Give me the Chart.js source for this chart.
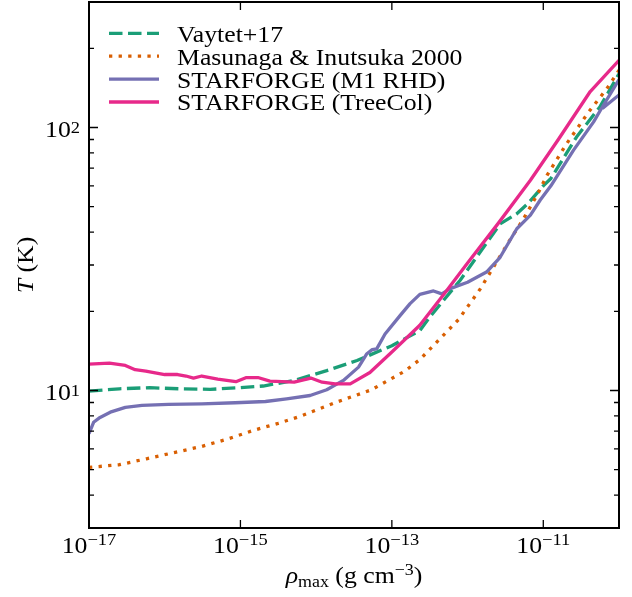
<!DOCTYPE html>
<html>
<head>
<meta charset="utf-8">
<title>Temperature vs. maximum density</title>
<script src="https://cdn.jsdelivr.net/npm/chart.js@4.4.1/dist/chart.umd.min.js"></script>
<style>
  html, body { margin: 0; padding: 0; background: #fff; }
</style>
</head>
<body>
<canvas id="tempChart" width="632" height="597"></canvas>
<script>
// density (g cm^-3) and temperature (K) for each curve
const vaytetRho = [1e-17, 2.51e-17, 6.31e-17, 1.58e-16, 3.98e-16, 1e-15, 2.0e-15, 5.01e-15, 1.38e-14, 3.47e-14,
  1e-13, 2.34e-13, 3.16e-13, 7.94e-13, 2.69e-12, 4.47e-12, 6.31e-12, 1e-11, 1.26e-11, 2.75e-11, 5.62e-11, 1e-10];
const vaytetT = [9.95, 10.15, 10.25, 10.15, 10.1, 10.25, 10.4, 10.9, 11.9, 13.0,
  14.8, 16.9, 19.0, 26.2, 43, 47, 51.5, 60, 64, 92, 120, 160];

const masunagaRho = [1e-17, 2.51e-17, 5.75e-17, 1.38e-16, 3.09e-16, 6.92e-16, 1.55e-15, 3.16e-15, 6.17e-15, 1.86e-14,
  5.37e-14, 1.48e-13, 2.34e-13, 7.59e-13, 1.48e-12, 3.55e-12, 5.5e-12, 8.71e-12, 1.12e-11, 2.04e-11, 3.98e-11, 6.92e-11, 1e-10];
const masunagaT = [5.1, 5.22, 5.5, 5.82, 6.13, 6.55, 7.08, 7.5, 7.98, 9.03,
  10.06, 11.84, 13.1, 18.6, 24.4, 37, 45, 56.9, 65.8, 86.9, 114.6, 140.6, 165];

// the M1 run leaves the plot on the right and comes back in
const m1Rho = [1e-17, 1.15e-17, 1.4e-17, 1.91e-17, 3.02e-17, 5.01e-17, 1.12e-16, 3.09e-16, 8.51e-16, 2.14e-15,
  4.07e-15, 8.32e-15, 1.38e-14, 2.29e-14, 3.63e-14, 4.68e-14, 5.5e-14, 6.31e-14, 8.13e-14, 1.29e-13,
  1.74e-13, 2.34e-13, 3.55e-13, 4.57e-13, 5.89e-13, 1e-12, 1.78e-12, 2.69e-12, 4.47e-12, 6.76e-12,
  9.12e-12, 1.26e-11, 2.51e-11, 4.62e-11, 5.66e-11, 1e-10, 1.26e-10, 1.26e-10, 1e-10, 6.03e-11];
const m1T = [6.85, 7.57, 7.9, 8.27, 8.63, 8.77, 8.85, 8.9, 8.98, 9.08,
  9.29, 9.57, 10.06, 10.92, 12.27, 13.8, 14.3, 14.4, 16.4, 19.3,
  21.4, 23.2, 23.9, 23.3, 24.4, 25.8, 28.2, 32.1, 41.2, 46.4,
  53, 60, 82, 105, 116, 152, 168, 140, 133, 118];

const treecolRho = [1e-17, 1.86e-17, 3.02e-17, 4.07e-17, 5.62e-17, 1e-16, 1.48e-16, 1.91e-16, 2.4e-16, 3.09e-16,
  5.01e-16, 8.71e-16, 1.2e-15, 1.7e-15, 2.45e-15, 5.13e-15, 8.51e-15, 1.2e-14, 1.78e-14, 2.82e-14,
  5.13e-14, 1e-13, 2.34e-13, 5.01e-13, 1e-12, 2.51e-12, 6.76e-12, 1.58e-11, 4.17e-11, 1e-10];
const treecolT = [12.6, 12.7, 12.45, 12.0, 11.85, 11.5, 11.5, 11.35, 11.15, 11.35,
  11.05, 10.8, 11.2, 11.2, 10.85, 10.75, 11.15, 10.75, 10.6, 10.6,
  11.7, 14.0, 17.7, 23.5, 30.5, 43, 63, 90, 137, 180];

const seriesLabels = ['Vaytet+17', 'Masunaga & Inutsuka 2000', 'STARFORGE (M1 RHD)', 'STARFORGE (TreeCol)'];

// axis ticks
const xTickValues = [1e-17, 1e-15, 1e-13, 1e-11];
const xTickExps = ['\u221217', '\u221215', '\u221213', '\u221211'];
const yTickValues = [3, 4, 5, 6, 7, 8, 9, 10, 20, 30, 40, 50, 60, 70, 80, 90, 100, 200, 300];
const yLabelValues = [10, 100];
const yLabelExps = ['1', '2'];

const SERIF = '"Liberation Serif", "DejaVu Serif", serif';
const STRETCH = 1.12;   // widen the serif a little
const MAJOR_LEN = 8;
const MINOR_LEN = 5;

function points(xs, ys) {
  return xs.map((x, i) => ({ x: x, y: ys[i] }));
}

function isDecade(v) {
  const l = Math.log10(v);
  return Math.abs(l - Math.round(l)) < 1e-9;
}

function textWidth(ctx, text, font) {
  ctx.font = font;
  return ctx.measureText(text).width * STRETCH;
}

function putText(ctx, text, font, x, y) {
  ctx.save();
  ctx.font = font;
  ctx.translate(x, y);
  ctx.scale(STRETCH, 1);
  ctx.fillText(text, 0, 0);
  ctx.restore();
}

// draw a run of pieces [{t, font, dy}] starting at x
function putRun(ctx, parts, x, baseline) {
  parts.forEach(p => {
    putText(ctx, p.t, p.font, x, baseline + (p.dy || 0));
    x += textWidth(ctx, p.t, p.font);
  });
}

function runWidth(ctx, parts) {
  return parts.reduce((s, p) => s + textWidth(ctx, p.t, p.font), 0);
}

const BIG = '23px ' + SERIF;
const SMALL = '16.5px ' + SERIF;

function powerParts(exp, rise) {
  return [{ t: '10', font: BIG }, { t: exp, font: SMALL, dy: -rise }];
}

const axesPlugin = {
  id: 'axesPlugin',
  afterDatasetsDraw(chart) {
    const { ctx, chartArea: a, scales: { x, y } } = chart;
    ctx.save();

    // inward ticks on all four sides
    ctx.strokeStyle = '#000';
    ctx.lineWidth = 1.3;
    ctx.beginPath();
    xTickValues.forEach(v => {
      const px = x.getPixelForValue(v);
      ctx.moveTo(px, a.bottom); ctx.lineTo(px, a.bottom - MAJOR_LEN);
      ctx.moveTo(px, a.top); ctx.lineTo(px, a.top + MAJOR_LEN);
    });
    yTickValues.forEach(v => {
      const py = y.getPixelForValue(v);
      const len = isDecade(v) ? MAJOR_LEN + 1 : MINOR_LEN;
      ctx.moveTo(a.left, py); ctx.lineTo(a.left + len, py);
      ctx.moveTo(a.right, py); ctx.lineTo(a.right - len, py);
    });
    ctx.stroke();

    ctx.lineWidth = 2;
    ctx.strokeRect(a.left, a.top, a.right - a.left, a.bottom - a.top);

    // tick labels
    ctx.fillStyle = '#000';
    ctx.textAlign = 'left';
    ctx.textBaseline = 'alphabetic';
    xTickValues.forEach((v, i) => {
      const px = x.getPixelForValue(v);
      const parts = powerParts(xTickExps[i], 8);
      putRun(ctx, parts, px - runWidth(ctx, parts) / 2, a.bottom + 25);
    });
    yLabelValues.forEach((v, i) => {
      const py = y.getPixelForValue(v);
      const parts = powerParts(yLabelExps[i], 4);
      putRun(ctx, parts, a.left - 9 - runWidth(ctx, parts), py + 9.3);
    });

    // x title: rho_max (g cm^-3)
    const xTitle = [
      { t: '\u03c1', font: 'italic ' + BIG },
      { t: 'max', font: '16px ' + SERIF, dy: 4 },
      { t: ' (g cm', font: BIG },
      { t: '\u22123', font: '16px ' + SERIF, dy: -8 },
      { t: ')', font: BIG }
    ];
    putRun(ctx, xTitle, (a.left + a.right) / 2 - runWidth(ctx, xTitle) / 2, 583);

    // y title: T (K), rotated
    const yTitle = [{ t: 'T', font: 'italic ' + BIG }, { t: ' (K)', font: BIG }];
    ctx.save();
    ctx.translate(33, (a.top + a.bottom) / 2);
    ctx.rotate(-Math.PI / 2);
    putRun(ctx, yTitle, -runWidth(ctx, yTitle) / 2, 0);
    ctx.restore();

    // legend inside the top-left corner
    chart.data.datasets.forEach((ds, i) => {
      const ly = 33.3 + i * 22.9;
      ctx.save();
      ctx.strokeStyle = ds.borderColor;
      ctx.lineWidth = ds.borderWidth;
      ctx.lineCap = 'butt';
      ctx.setLineDash(ds.borderDash || []);
      ctx.beginPath();
      ctx.moveTo(a.left + 20, ly);
      ctx.lineTo(a.left + 70, ly);
      ctx.stroke();
      ctx.restore();
      putText(ctx, ds.label, BIG, a.left + 88, ly + 8.4);
    });

    ctx.restore();
  }
};

const ctx = document.getElementById('tempChart').getContext('2d');
const chart = new Chart(ctx, {
  type: 'line',
  data: {
    datasets: [
      {
        label: seriesLabels[0],
        data: points(vaytetRho, vaytetT),
        borderColor: '#1b9e77',
        borderWidth: 3.3,
        borderDash: [13.5, 5.5],
        order: 4
      },
      {
        label: seriesLabels[1],
        data: points(masunagaRho, masunagaT),
        borderColor: '#d95f02',
        borderWidth: 3.3,
        borderDash: [3.3, 6.3],
        order: 3
      },
      {
        label: seriesLabels[2],
        data: points(m1Rho, m1T),
        borderColor: '#7570b3',
        borderWidth: 3.3,
        order: 2
      },
      {
        label: seriesLabels[3],
        data: points(treecolRho, treecolT),
        borderColor: '#e7298a',
        borderWidth: 3.3,
        order: 1
      }
    ]
  },
  options: {
    responsive: false,
    devicePixelRatio: 1,
    animation: false,
    layout: { padding: { left: 89, right: 13, top: 2, bottom: 69 } },
    elements: {
      point: { radius: 0, hoverRadius: 0 },
      line: { tension: 0, fill: false, borderCapStyle: 'butt', borderJoinStyle: 'round' }
    },
    datasets: { line: { clip: 0 } },
    scales: {
      x: { type: 'logarithmic', min: 1e-17, max: 1e-10, display: false },
      y: { type: 'logarithmic', min: 3, max: 300, display: false }
    },
    plugins: {
      legend: { display: false },
      tooltip: { enabled: false }
    }
  },
  plugins: [axesPlugin]
});
</script>
</body>
</html>
